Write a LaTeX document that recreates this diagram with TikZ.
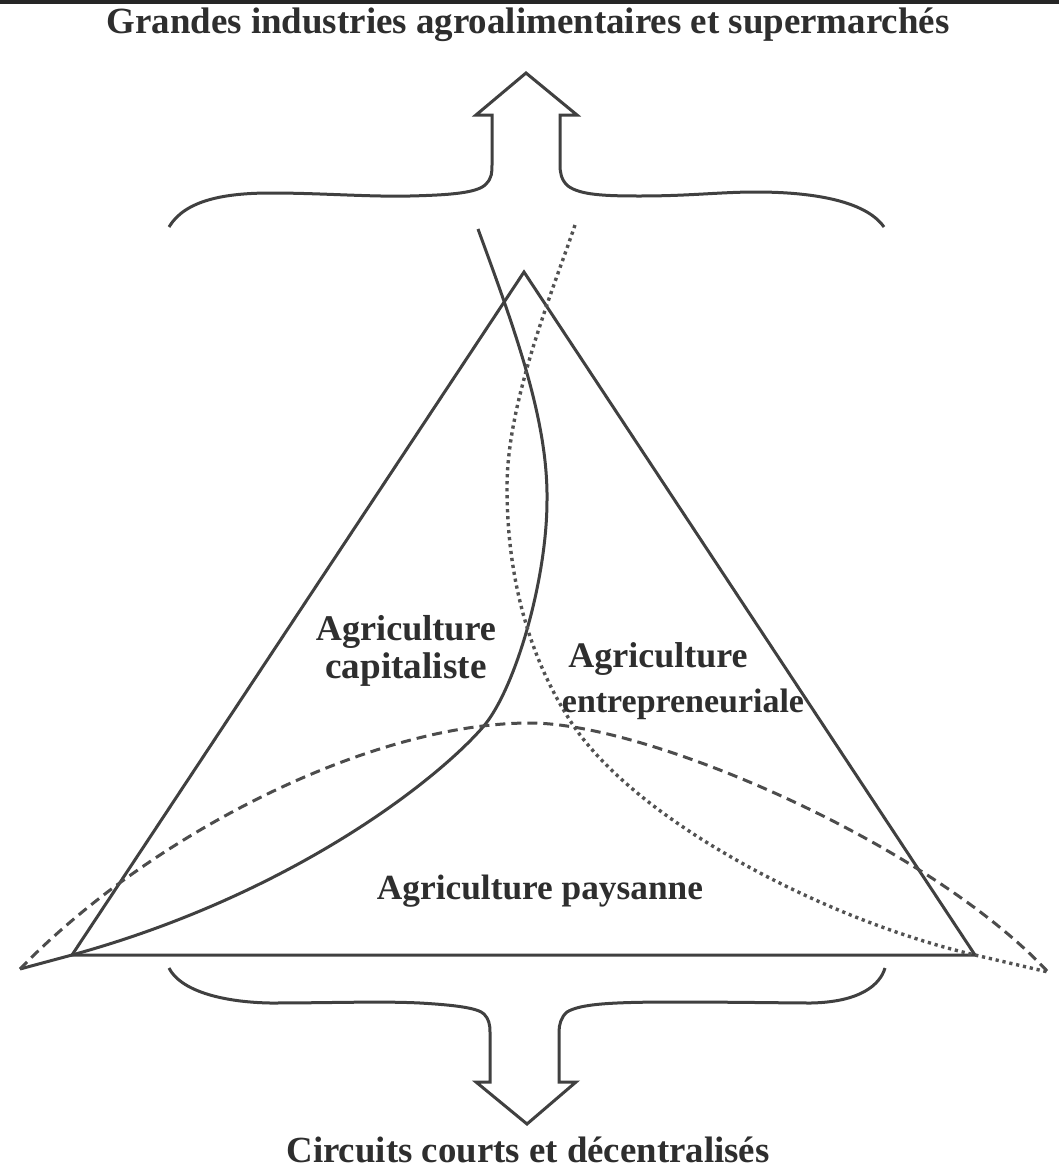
\documentclass[tikz,border=0pt]{standalone}
\usepackage{fontspec}
\setmainfont{Liberation Serif}
\newfontfamily\semib{Liberation Serif Bold}
\newfontfamily\titlef{Liberation Serif Bold}
\begin{document}
\begin{tikzpicture}[x=1pt,y=-1pt,
  ln/.style={draw=black!75, line width=3pt, line join=miter},
  dashln/.style={draw=black!70, line width=3pt, dash pattern=on 10pt off 6pt},
  dotln/.style={draw=black!68, line width=3.4pt, dash pattern=on 3.2pt off 3.8pt},
  lab/.style={inner sep=0pt, anchor=base, text=black!82, font=\semib}]
\useasboundingbox (0,0) rectangle (1059,1173);
\fill[white] (0,0) rectangle (1059,1173);
\fill[black!85] (0,0) rectangle (1059,4);

% titles
\node[lab, font=\titlef] (title) at (528,33) {\resizebox{843pt}{!}{Grandes industries agroalimentaires et supermarchés}};
\node[lab] (bottom) at (528,1162) {\resizebox{483pt}{!}{Circuits courts et décentralisés}};

% top brace with arrow
\draw[ln] (169,227) .. controls (185,200) and (225,193) .. (271,193)
  .. controls (320,193) and (370,197) .. (410,196)
  .. controls (450,195) and (478,193) .. (486,184)
  .. controls (492,178) and (492,172) .. (492,165)
  -- (492,115) -- (476,115) -- (526,73) -- (577,115) -- (560,115) -- (560,165)
  .. controls (560,172) and (561,180) .. (568,186)
  .. controls (580,195) and (605,196) .. (640,196)
  .. controls (690,196) and (720,192) .. (756,192)
  .. controls (810,192) and (865,200) .. (884,227);

% bottom brace with arrow
\draw[ln] (169,968) .. controls (180,990) and (220,1002) .. (270,1003)
  .. controls (330,1003) and (380,1001) .. (420,1003)
  .. controls (455,1005) and (478,1008) .. (484,1014)
  .. controls (489,1019) and (490,1025) .. (490,1032)
  -- (490,1082) -- (476,1082) -- (527,1124) -- (576,1082) -- (559,1082) -- (559,1032)
  .. controls (559,1025) and (561,1017) .. (567,1012)
  .. controls (580,1004) and (610,1002) .. (676,1002)
  .. controls (730,1002) and (790,1003) .. (811,1003)
  .. controls (860,1002) and (880,985) .. (885,968);

% triangle
\coordinate (A) at (524,272);
\coordinate (B) at (72,955);
\coordinate (C) at (975,955);
\draw[ln] (B) -- (A) -- (C) -- cycle;

% capitalist curve (solid)
\coordinate (capTop) at (478,229);
\coordinate (capEnd) at (20,969);
\draw[ln] (capTop) .. controls (515,330) and (548,420) .. (547,500)
  .. controls (547,580) and (515,690) .. (483,727)
  .. controls (435,782) and (290,895) .. (B) -- (capEnd);

% entrepreneurial curve (dotted)
\coordinate (entTop) at (575,225);
\coordinate (entEnd) at (1048,972);
\draw[dotln] (entTop) .. controls (555,285) and (507,400) .. (507,487)
  .. controls (507,580) and (530,660) .. (573,725)
  .. controls (638,822) and (825,920) .. (C) -- (entEnd);

% peasant curve (dashed)
\draw[dashln] (capEnd) .. controls (150,835) and (370,723) .. (530,723)
  .. controls (650,723) and (930,845) .. (entEnd);

% labels
\node[lab] (cap1) at (406,640) {\resizebox{180pt}{!}{Agriculture}};
\node[lab] (cap2) at (406,678) {\resizebox{161pt}{!}{capitaliste}};
\node[lab] (ent1) at (658,667) {\resizebox{179pt}{!}{Agriculture}};
\node[lab] (ent2) at (683,712) {\resizebox{242pt}{!}{entrepreneuriale}};
\node[lab] (pay) at (540,899) {\resizebox{326pt}{!}{Agriculture paysanne}};
\end{tikzpicture}
\end{document}
